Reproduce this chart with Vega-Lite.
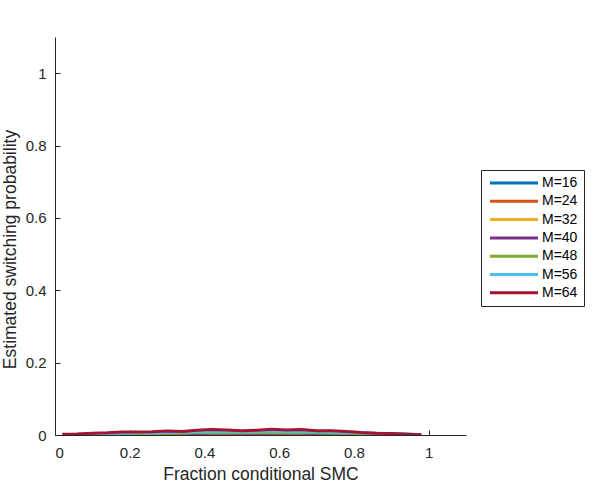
{
  "$schema": "https://vega.github.io/schema/vega-lite/v6.json",
  "width": 411,
  "height": 398,
  "autosize": {"type": "none"},
  "padding": {"left": 55, "top": 37, "right": 132, "bottom": 53},
  "background": "white",
  "config": {
    "view": {"stroke": null},
    "font": "Liberation Sans",
    "axis": {
      "domainColor": "#262626",
      "tickColor": "#262626",
      "labelColor": "#262626",
      "titleColor": "#262626",
      "labelFont": "Liberation Sans",
      "titleFont": "Liberation Sans",
      "labelFontSize": 15,
      "titleFontSize": 17.5,
      "titleFontWeight": "normal",
      "grid": false,
      "tickSize": -5,
      "domainWidth": 1,
      "tickWidth": 1
    }
  },
  "data": {
    "values": [
      {"s":"M=16","x":0.02,"y":0.001},{"s":"M=16","x":0.06,"y":0.001},{"s":"M=16","x":0.10,"y":0.002},{"s":"M=16","x":0.14,"y":0.002},{"s":"M=16","x":0.18,"y":0.002},{"s":"M=16","x":0.22,"y":0.003},{"s":"M=16","x":0.26,"y":0.003},{"s":"M=16","x":0.30,"y":0.003},{"s":"M=16","x":0.34,"y":0.004},{"s":"M=16","x":0.38,"y":0.004},{"s":"M=16","x":0.42,"y":0.004},{"s":"M=16","x":0.46,"y":0.004},{"s":"M=16","x":0.50,"y":0.004},{"s":"M=16","x":0.54,"y":0.005},{"s":"M=16","x":0.58,"y":0.005},{"s":"M=16","x":0.62,"y":0.004},{"s":"M=16","x":0.66,"y":0.004},{"s":"M=16","x":0.70,"y":0.004},{"s":"M=16","x":0.74,"y":0.004},{"s":"M=16","x":0.78,"y":0.004},{"s":"M=16","x":0.82,"y":0.004},{"s":"M=16","x":0.86,"y":0.003},{"s":"M=16","x":0.90,"y":0.003},{"s":"M=16","x":0.94,"y":0.003},{"s":"M=16","x":0.98,"y":0.001},
      {"s":"M=24","x":0.02,"y":0.000},{"s":"M=24","x":0.06,"y":0.001},{"s":"M=24","x":0.10,"y":0.001},{"s":"M=24","x":0.14,"y":0.001},{"s":"M=24","x":0.18,"y":0.001},{"s":"M=24","x":0.22,"y":0.001},{"s":"M=24","x":0.26,"y":0.002},{"s":"M=24","x":0.30,"y":0.002},{"s":"M=24","x":0.34,"y":0.002},{"s":"M=24","x":0.38,"y":0.002},{"s":"M=24","x":0.42,"y":0.002},{"s":"M=24","x":0.46,"y":0.002},{"s":"M=24","x":0.50,"y":0.002},{"s":"M=24","x":0.54,"y":0.002},{"s":"M=24","x":0.58,"y":0.002},{"s":"M=24","x":0.62,"y":0.002},{"s":"M=24","x":0.66,"y":0.002},{"s":"M=24","x":0.70,"y":0.002},{"s":"M=24","x":0.74,"y":0.002},{"s":"M=24","x":0.78,"y":0.001},{"s":"M=24","x":0.82,"y":0.001},{"s":"M=24","x":0.86,"y":0.001},{"s":"M=24","x":0.90,"y":0.001},{"s":"M=24","x":0.94,"y":0.001},{"s":"M=24","x":0.98,"y":0.000},
      {"s":"M=32","x":0.02,"y":0.000},{"s":"M=32","x":0.06,"y":0.001},{"s":"M=32","x":0.10,"y":0.001},{"s":"M=32","x":0.14,"y":0.001},{"s":"M=32","x":0.18,"y":0.002},{"s":"M=32","x":0.22,"y":0.002},{"s":"M=32","x":0.26,"y":0.002},{"s":"M=32","x":0.30,"y":0.002},{"s":"M=32","x":0.34,"y":0.003},{"s":"M=32","x":0.38,"y":0.003},{"s":"M=32","x":0.42,"y":0.003},{"s":"M=32","x":0.46,"y":0.003},{"s":"M=32","x":0.50,"y":0.003},{"s":"M=32","x":0.54,"y":0.003},{"s":"M=32","x":0.58,"y":0.003},{"s":"M=32","x":0.62,"y":0.003},{"s":"M=32","x":0.66,"y":0.003},{"s":"M=32","x":0.70,"y":0.003},{"s":"M=32","x":0.74,"y":0.002},{"s":"M=32","x":0.78,"y":0.002},{"s":"M=32","x":0.82,"y":0.002},{"s":"M=32","x":0.86,"y":0.002},{"s":"M=32","x":0.90,"y":0.001},{"s":"M=32","x":0.94,"y":0.001},{"s":"M=32","x":0.98,"y":0.000},
      {"s":"M=40","x":0.02,"y":0.001},{"s":"M=40","x":0.06,"y":0.001},{"s":"M=40","x":0.10,"y":0.002},{"s":"M=40","x":0.14,"y":0.002},{"s":"M=40","x":0.18,"y":0.003},{"s":"M=40","x":0.22,"y":0.003},{"s":"M=40","x":0.26,"y":0.003},{"s":"M=40","x":0.30,"y":0.004},{"s":"M=40","x":0.34,"y":0.004},{"s":"M=40","x":0.38,"y":0.004},{"s":"M=40","x":0.42,"y":0.005},{"s":"M=40","x":0.46,"y":0.005},{"s":"M=40","x":0.50,"y":0.005},{"s":"M=40","x":0.54,"y":0.005},{"s":"M=40","x":0.58,"y":0.005},{"s":"M=40","x":0.62,"y":0.005},{"s":"M=40","x":0.66,"y":0.005},{"s":"M=40","x":0.70,"y":0.004},{"s":"M=40","x":0.74,"y":0.004},{"s":"M=40","x":0.78,"y":0.004},{"s":"M=40","x":0.82,"y":0.003},{"s":"M=40","x":0.86,"y":0.003},{"s":"M=40","x":0.90,"y":0.002},{"s":"M=40","x":0.94,"y":0.001},{"s":"M=40","x":0.98,"y":0.000},
      {"s":"M=48","x":0.02,"y":0.001},{"s":"M=48","x":0.06,"y":0.001},{"s":"M=48","x":0.10,"y":0.002},{"s":"M=48","x":0.14,"y":0.003},{"s":"M=48","x":0.18,"y":0.003},{"s":"M=48","x":0.22,"y":0.004},{"s":"M=48","x":0.26,"y":0.004},{"s":"M=48","x":0.30,"y":0.005},{"s":"M=48","x":0.34,"y":0.005},{"s":"M=48","x":0.38,"y":0.006},{"s":"M=48","x":0.42,"y":0.006},{"s":"M=48","x":0.46,"y":0.006},{"s":"M=48","x":0.50,"y":0.006},{"s":"M=48","x":0.54,"y":0.007},{"s":"M=48","x":0.58,"y":0.007},{"s":"M=48","x":0.62,"y":0.006},{"s":"M=48","x":0.66,"y":0.006},{"s":"M=48","x":0.70,"y":0.006},{"s":"M=48","x":0.74,"y":0.005},{"s":"M=48","x":0.78,"y":0.005},{"s":"M=48","x":0.82,"y":0.004},{"s":"M=48","x":0.86,"y":0.003},{"s":"M=48","x":0.90,"y":0.002},{"s":"M=48","x":0.94,"y":0.002},{"s":"M=48","x":0.98,"y":0.001},
      {"s":"M=56","x":0.02,"y":0.001},{"s":"M=56","x":0.06,"y":0.002},{"s":"M=56","x":0.10,"y":0.003},{"s":"M=56","x":0.14,"y":0.004},{"s":"M=56","x":0.18,"y":0.005},{"s":"M=56","x":0.22,"y":0.006},{"s":"M=56","x":0.26,"y":0.006},{"s":"M=56","x":0.30,"y":0.007},{"s":"M=56","x":0.34,"y":0.008},{"s":"M=56","x":0.38,"y":0.009},{"s":"M=56","x":0.42,"y":0.010},{"s":"M=56","x":0.46,"y":0.010},{"s":"M=56","x":0.50,"y":0.009},{"s":"M=56","x":0.54,"y":0.010},{"s":"M=56","x":0.58,"y":0.011},{"s":"M=56","x":0.62,"y":0.010},{"s":"M=56","x":0.66,"y":0.010},{"s":"M=56","x":0.70,"y":0.009},{"s":"M=56","x":0.74,"y":0.008},{"s":"M=56","x":0.78,"y":0.007},{"s":"M=56","x":0.82,"y":0.006},{"s":"M=56","x":0.86,"y":0.005},{"s":"M=56","x":0.90,"y":0.004},{"s":"M=56","x":0.94,"y":0.003},{"s":"M=56","x":0.98,"y":0.001},
      {"s":"M=64","x":0.02,"y":0.002},{"s":"M=64","x":0.06,"y":0.003},{"s":"M=64","x":0.10,"y":0.005},{"s":"M=64","x":0.14,"y":0.006},{"s":"M=64","x":0.18,"y":0.008},{"s":"M=64","x":0.22,"y":0.008},{"s":"M=64","x":0.26,"y":0.009},{"s":"M=64","x":0.30,"y":0.011},{"s":"M=64","x":0.34,"y":0.010},{"s":"M=64","x":0.38,"y":0.013},{"s":"M=64","x":0.42,"y":0.015},{"s":"M=64","x":0.46,"y":0.014},{"s":"M=64","x":0.50,"y":0.012},{"s":"M=64","x":0.54,"y":0.013},{"s":"M=64","x":0.58,"y":0.016},{"s":"M=64","x":0.62,"y":0.014},{"s":"M=64","x":0.66,"y":0.015},{"s":"M=64","x":0.70,"y":0.012},{"s":"M=64","x":0.74,"y":0.012},{"s":"M=64","x":0.78,"y":0.010},{"s":"M=64","x":0.82,"y":0.007},{"s":"M=64","x":0.86,"y":0.005},{"s":"M=64","x":0.90,"y":0.004},{"s":"M=64","x":0.94,"y":0.002},{"s":"M=64","x":0.98,"y":0.001}
    ]
  },
  "mark": {"type": "line", "strokeWidth": 3, "clip": true},
  "encoding": {
    "x": {
      "field": "x", "type": "quantitative",
      "scale": {"domain": [0, 1.1], "nice": false, "zero": false},
      "axis": {"values": [0, 0.2, 0.4, 0.6, 0.8, 1], "format": "~g", "title": "Fraction conditional SMC", "labelPadding": 15, "titlePadding": 5}
    },
    "y": {
      "field": "y", "type": "quantitative",
      "scale": {"domain": [0, 1.1], "nice": false, "zero": false},
      "axis": {"values": [0, 0.2, 0.4, 0.6, 0.8, 1], "format": "~g", "title": "Estimated switching probability", "labelPadding": 14, "titlePadding": 6, "titleY": 212}
    },
    "color": {
      "field": "s", "type": "nominal",
      "scale": {
        "domain": ["M=16","M=24","M=32","M=40","M=48","M=56","M=64"],
        "range": ["#0072BD","#D95319","#EDB120","#7E2F8E","#77AC30","#4DBEEE","#A2142F"]
      },
      "legend": {
        "title": null,
        "orient": "none",
        "legendX": 426,
        "legendY": 133,
        "symbolType": "M-4.8,0H4.8",
        "symbolSize": 100,
        "symbolStrokeWidth": 3,
        "symbolOffset": 20,
        "labelFontSize": 14,
        "labelColor": "#000000",
        "labelFont": "Liberation Sans",
        "rowPadding": 4.3,
        "labelOffset": 21,
        "strokeColor": "#262626",
        "fillColor": "white",
        "padding": 6
      }
    }
  }
}
